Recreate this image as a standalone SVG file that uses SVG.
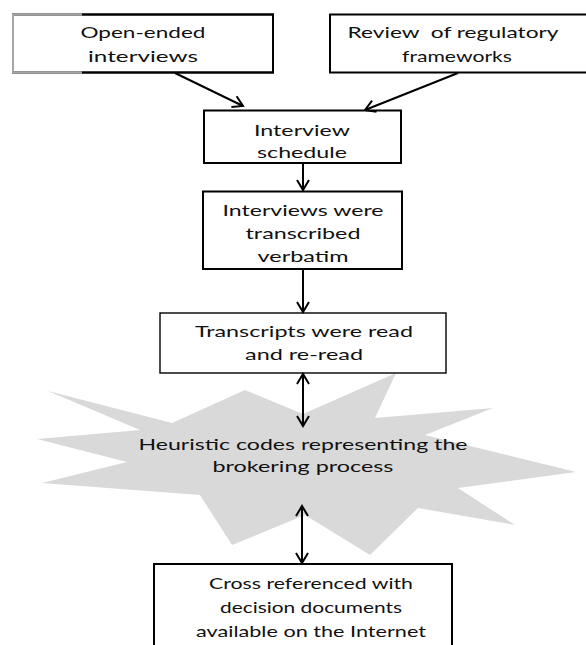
<svg xmlns="http://www.w3.org/2000/svg" width="586" height="645" viewBox="0 0 586 645">
  <style>
    .box { fill: #ffffff; stroke: #000000; stroke-width: 2; }
    .thin { stroke-width: 1.4; }
    .lbl { font-family: Lato, "Liberation Sans", sans-serif; font-size: 16px; fill: #111111; text-anchor: middle; white-space: pre; }
    .wire { fill: none; stroke: #000000; stroke-width: 2; }
  </style>
  <defs>
    <marker id="chev" viewBox="-12 -8 14 16" refX="0" refY="0" markerWidth="14" markerHeight="16" markerUnits="userSpaceOnUse" orient="auto-start-reverse">
      <path d="M-10,-6 L0,0 L-10,6" fill="none" stroke="#000000" stroke-width="2"/>
    </marker>
  </defs>

  <rect width="586" height="645" fill="#ffffff"/>

  <!-- burst shape behind the central label -->
  <g id="heuristic-codes">
    <polygon fill="#d9d9d9" points="48,391 172,423 245,390 303,414 396,373 375,418 493,408 425,435 576,472 458,488 515,525 418,508 370,555 305,515 232,545 200,495 42,483 127,462 37,439 140,430"/>
    <text class="lbl" x="303" y="450" textLength="329" lengthAdjust="spacingAndGlyphs">Heuristic codes representing the</text>
    <text class="lbl" x="303" y="472" textLength="181" lengthAdjust="spacingAndGlyphs">brokering process</text>
  </g>

  <g id="open-ended-interviews">
    <rect class="box" x="13" y="14.5" width="260" height="58" stroke="none"/>
    <path d="M82,14.5 H273 V72.5 H82" fill="none" stroke="#000" stroke-width="2"/>
    <path d="M82,14.5 H13 V72.5 H82" fill="none" stroke="#a6a6a6" stroke-width="2"/>
    <text class="lbl" x="143" y="38" textLength="125" lengthAdjust="spacingAndGlyphs">Open-ended</text>
    <text class="lbl" x="143" y="62" textLength="110" lengthAdjust="spacingAndGlyphs">interviews</text>
  </g>

  <g id="regulatory-review">
    <rect class="box" x="330" y="14.5" width="262" height="58"/>
    <text class="lbl" x="453" y="38" textLength="211" lengthAdjust="spacingAndGlyphs">Review  of regulatory</text>
    <text class="lbl" x="457" y="62" textLength="110" lengthAdjust="spacingAndGlyphs">frameworks</text>
  </g>

  <g id="interview-schedule">
    <rect class="box" x="204" y="110.5" width="197" height="52.5"/>
    <text class="lbl" x="302" y="136" textLength="96" lengthAdjust="spacingAndGlyphs">Interview</text>
    <text class="lbl" x="302" y="158" textLength="90" lengthAdjust="spacingAndGlyphs">schedule</text>
  </g>

  <g id="transcription">
    <rect class="box" x="203" y="191.5" width="199" height="77.5"/>
    <text class="lbl" x="303" y="216" textLength="161" lengthAdjust="spacingAndGlyphs">Interviews were</text>
    <text class="lbl" x="303" y="239" textLength="115" lengthAdjust="spacingAndGlyphs">transcribed</text>
    <text class="lbl" x="303" y="262" textLength="91" lengthAdjust="spacingAndGlyphs">verbatim</text>
  </g>

  <g id="transcripts-read">
    <rect class="box thin" x="160" y="313" width="286" height="60"/>
    <text class="lbl" x="304" y="337" textLength="218" lengthAdjust="spacingAndGlyphs">Transcripts were read</text>
    <text class="lbl" x="304" y="360" textLength="118" lengthAdjust="spacingAndGlyphs">and re-read</text>
  </g>

  <g id="cross-referenced">
    <rect class="box" x="154" y="564" width="298" height="95"/>
    <text class="lbl" x="311" y="589" textLength="204" lengthAdjust="spacingAndGlyphs">Cross referenced with</text>
    <text class="lbl" x="311" y="613" textLength="182" lengthAdjust="spacingAndGlyphs">decision documents</text>
    <text class="lbl" x="311" y="637" textLength="230" lengthAdjust="spacingAndGlyphs">available on the Internet</text>
  </g>

  <g id="connectors">
    <line class="wire" x1="175" y1="73" x2="243" y2="106" marker-end="url(#chev)"/>
    <line class="wire" x1="458" y1="73" x2="365" y2="110" marker-end="url(#chev)"/>
    <line class="wire" x1="303" y1="163" x2="303" y2="190" marker-end="url(#chev)"/>
    <line class="wire" x1="303" y1="269" x2="303" y2="312" marker-end="url(#chev)"/>
    <line class="wire" x1="303" y1="374" x2="303" y2="426" marker-start="url(#chev)" marker-end="url(#chev)"/>
    <line class="wire" x1="302" y1="506" x2="302" y2="563" marker-start="url(#chev)" marker-end="url(#chev)"/>
  </g>
</svg>
